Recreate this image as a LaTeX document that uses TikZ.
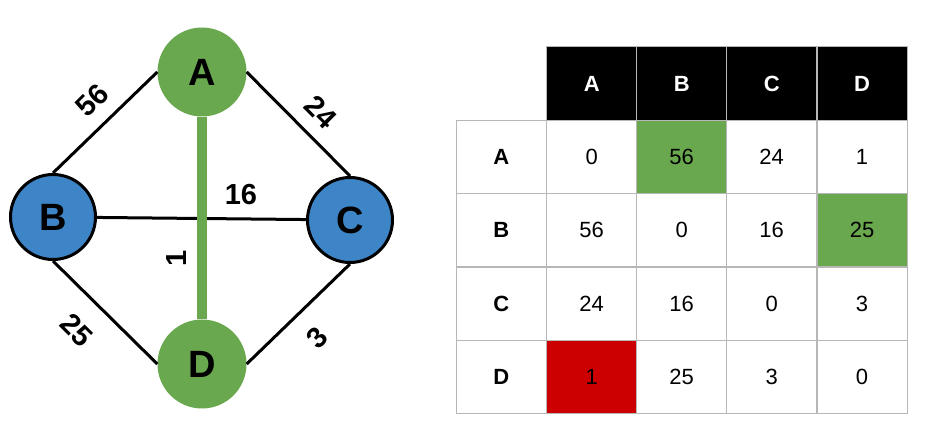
\documentclass[tikz,border=0pt]{standalone}
\usepackage{fontspec}
\setmainfont{Liberation Sans}
\definecolor{ggreen}{HTML}{6AA84F}
\definecolor{gblue}{HTML}{3D85C6}
\definecolor{gred}{HTML}{CC0000}
\definecolor{ggrid}{HTML}{B7B7B7}
\begin{document}
\begin{tikzpicture}[x=1pt,y=-1pt,
  vert/.style={circle,minimum size=89pt,inner sep=0pt,font=\fontsize{38}{38}\selectfont\bfseries},
  gv/.style={vert,fill=ggreen},
  bv/.style={vert,fill=gblue,draw=black,line width=3pt,minimum size=85pt},
  edge/.style={line width=3pt,black},
  wlab/.style={font=\fontsize{29}{29}\selectfont\bfseries,inner sep=0pt},
  cell/.style={rectangle,draw=ggrid,line width=0.9pt,minimum width=90pt,minimum height=73.3pt,inner sep=0pt,font=\fontsize{22}{22}\selectfont},
  hcell/.style={cell,fill=black,text=white,font=\fontsize{22}{22}\selectfont\bfseries},
  rcell/.style={cell,font=\fontsize{22}{22}\selectfont\bfseries},
]
\useasboundingbox (0,0) rectangle (943,446);
% graph
\node[bv] (B) at (53,217) {B};
\node[bv] (C) at (350,220) {C};
\node[gv] (A) at (202,72) {A};
\node[gv] (D) at (202,364) {D};
\draw[edge] (B.north) -- (A.west);
\draw[edge] (A.east) -- (C.north);
\draw[edge] (B) -- (C);
\draw[edge] (B.south) -- (D.west);
\draw[edge] (D.east) -- (C.south);
\draw[line width=10pt,ggreen] (A) -- (D);
\node[wlab,rotate=45] (l56) at (92,100) {56};
\node[wlab,rotate=-45] (l24) at (321,112) {24};
\node[wlab] (l16) at (241,195) {16};
\node[wlab,rotate=90] (l1) at (177,258) {1};
\node[wlab,rotate=-45] (l25) at (77,330) {25};
\node[wlab,rotate=45] (l3) at (317,338) {3};
% table
\foreach \n/\x in {A/591.7,B/681.7,C/771.7,D/862}{
  \node[hcell] (h\n) at (\x,83.6) {\n};
}
\foreach \n/\y in {A/156.7,B/230.3,C/303.7,D/376.7}{
  \node[rcell] (r\n) at (501.3,\y) {\n};
}
\node[cell] (AA) at (591.7,156.7) {0};
\node[cell,fill=ggreen] (AB) at (681.7,156.7) {56};
\node[cell] (AC) at (771.7,156.7) {24};
\node[cell] (AD) at (862,156.7) {1};
\node[cell] (BA) at (591.7,230.3) {56};
\node[cell] (BB) at (681.7,230.3) {0};
\node[cell] (BC) at (771.7,230.3) {16};
\node[cell,fill=ggreen] (BD) at (862,230.3) {25};
\node[cell] (CA) at (591.7,303.7) {24};
\node[cell] (CB) at (681.7,303.7) {16};
\node[cell] (CC) at (771.7,303.7) {0};
\node[cell] (CD) at (862,303.7) {3};
\node[cell,fill=gred] (DA) at (591.7,376.7) {1};
\node[cell] (DB) at (681.7,376.7) {25};
\node[cell] (DC) at (771.7,376.7) {3};
\node[cell] (DD) at (862,376.7) {0};
\end{tikzpicture}
\end{document}
